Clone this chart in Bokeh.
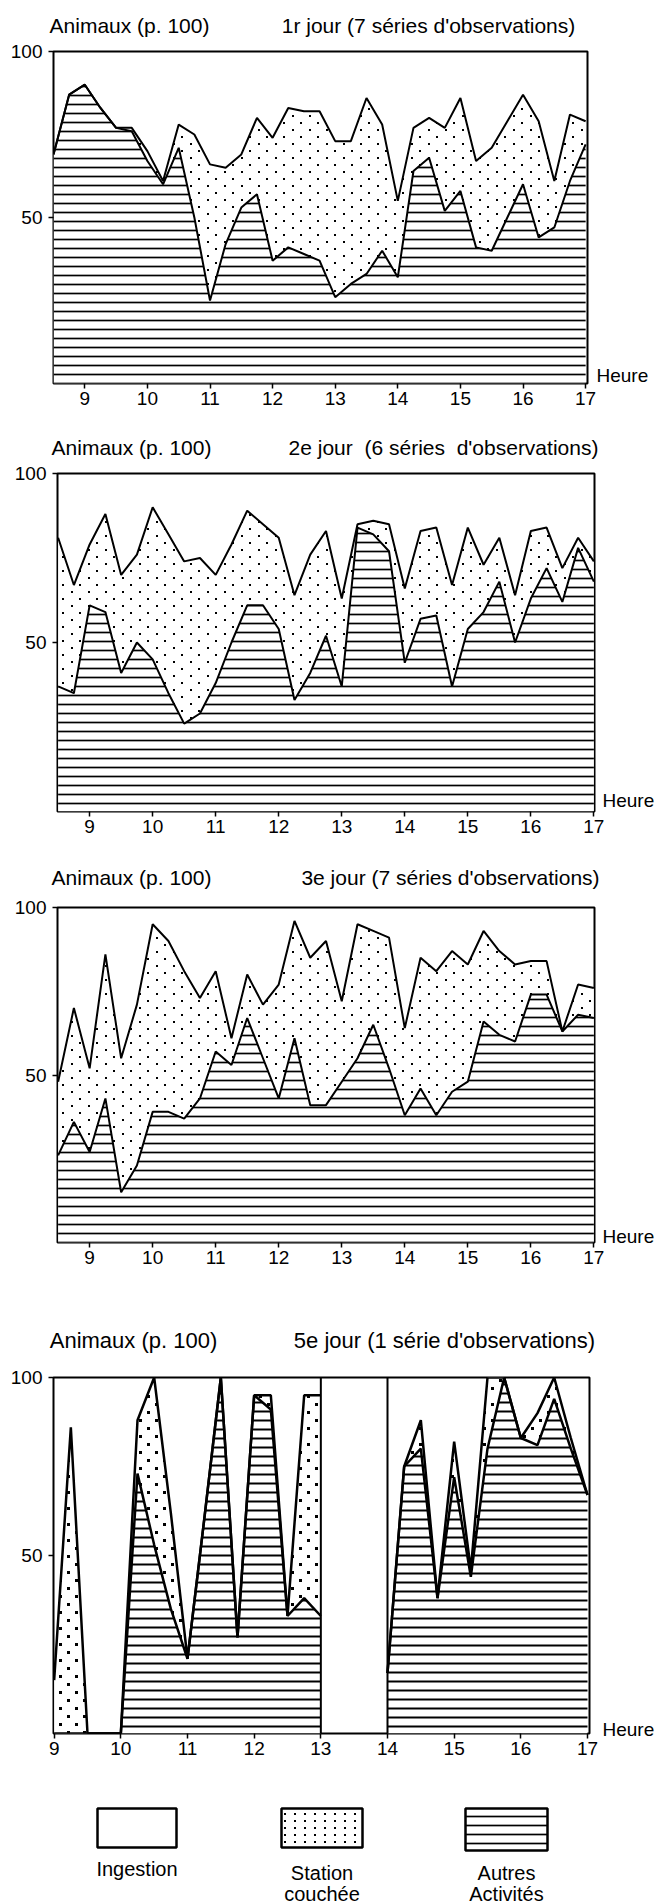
import base64
import struct
import zlib

from bokeh.plotting import figure
from bokeh.models import Range1d, FixedTicker, Span, LinearAxis, ImageURLTexture
from bokeh.embed import file_html
from bokeh.resources import INLINE
from bokeh.core.properties import value

FONT = "Liberation Sans"

# ---- observation times (hours, one reading every quarter hour) ----
hours_830 = [8.5, 8.75, 9.0, 9.25, 9.5, 9.75, 10.0, 10.25, 10.5, 10.75, 11.0, 11.25,
             11.5, 11.75, 12.0, 12.25, 12.5, 12.75, 13.0, 13.25, 13.5, 13.75, 14.0,
             14.25, 14.5, 14.75, 15.0, 15.25, 15.5, 15.75, 16.0, 16.25, 16.5, 16.75, 17.0]
hours_900 = hours_830[2:]

# ---- day 1 (7 series): % animals in "other activities" and "lying" ----
j1_autres = [69, 87, 90, 83, 77, 76, 67, 60, 71, 50, 25, 42, 53, 57, 37, 41, 39, 37,
             26, 30, 33, 40, 32, 64, 68, 52, 58, 41, 40, 50, 60, 44, 47, 61, 72]
j1_couchee = [0, 0, 0, 0, 0, 1, 3, 1, 7, 25, 41, 23, 16, 23, 37, 42, 43, 45,
              47, 43, 53, 38, 23, 13, 12, 25, 28, 26, 31, 29, 27, 35, 14, 20, 7]

# ---- day 2 (6 series) ----
j2_autres = [37, 35, 61, 59, 41, 50, 45, 35, 26, 29, 38, 50, 61, 61, 54, 33, 41, 52,
             37, 84, 82, 77, 44, 57, 58, 37, 54, 59, 68, 50, 63, 72, 62, 78, 68]
j2_couchee = [44, 32, 18, 29, 29, 26, 45, 47, 48, 46, 32, 29, 28, 24, 27, 31, 35, 31,
              26, 1, 4, 8, 22, 26, 26, 30, 30, 14, 13, 14, 20, 12, 10, 3, 6]

# ---- day 3 (7 series) ----
j3_autres = [26, 36, 27, 43, 15, 23, 39, 39, 37, 43, 57, 53, 67, 55, 43, 61, 41, 41,
             48, 55, 65, 52, 38, 46, 38, 45, 48, 66, 62, 60, 74, 74, 63, 68, 67]
j3_couchee = [22, 34, 25, 43, 40, 48, 56, 51, 44, 30, 24, 8, 13, 16, 34, 35, 44, 49,
              24, 40, 28, 39, 26, 39, 43, 42, 35, 27, 25, 23, 10, 10, 0, 9, 9]

# ---- day 5 (1 series), no readings between 13 h and 14 h ----
j5_autres = [0, 0, 0, 0, 0, 73, 53, 35, 21, 60, 100, 27, 95, 91, 33, 38, 33,
             None, None, None, 17, 75, 80, 38, 72, 44, 80, 100, 83, 81, 94, 80, 67]
j5_couchee = [15, 86, 0, 0, 0, 15, 47, 27, 0, 0, 0, 0, 0, 4, 0, 57, 62,
              None, None, None, 0, 0, 8, 0, 10, 2, 20, 0, 0, 9, 6, 3, 0]

hour_ticks = [9, 10, 11, 12, 13, 14, 15, 16, 17]
pct_ticks = [50, 100]

PAGE_W = 657


# ---- stipple tiles (small transparent PNGs with black dots) ----
def png_tile(w, h, dots, size):
    alpha = {}
    for (cx, cy) in dots:
        for dx in range(size):
            for dy in range(size):
                alpha[((cx + dx) % w, (cy + dy) % h)] = 255
    raw = bytearray()
    for y in range(h):
        raw.append(0)
        for x in range(w):
            raw += bytes((0, 0, 0, alpha.get((x, y), 0)))

    def chunk(tag, data):
        return (struct.pack(">I", len(data)) + tag + data
                + struct.pack(">I", zlib.crc32(tag + data) & 0xFFFFFFFF))

    png = (b"\x89PNG\r\n\x1a\n"
           + chunk(b"IHDR", struct.pack(">IIBBBBB", w, h, 8, 6, 0, 0, 0))
           + chunk(b"IDAT", zlib.compress(bytes(raw)))
           + chunk(b"IEND", b""))
    return "data:image/png;base64," + base64.b64encode(png).decode("ascii")


TEXTURES = {
    "stipple": ImageURLTexture(url=png_tile(17, 14, [(3, 3), (11, 10)], 2)),
    "stipple_bold": ImageURLTexture(url=png_tile(16, 16, [(3, 3), (11, 11)], 3)),
    "griddots": ImageURLTexture(url=png_tile(10, 7, [(4, 3)], 2)),
}


def runs(t, autres, couchee):
    """Split a series into contiguous runs (gaps are None)."""
    out, cur = [], ([], [], [])
    for ti, a, c in zip(t, autres, couchee):
        if a is None:
            if cur[0]:
                out.append(cur)
            cur = ([], [], [])
            continue
        cur[0].append(ti)
        cur[1].append(a)
        cur[2].append(a + c)
    if cur[0]:
        out.append(cur)
    return out


def style_axis(ax, size):
    ax.axis_line_color = None
    ax.major_tick_in = 0
    ax.minor_tick_line_color = None
    ax.major_label_text_font = FONT
    ax.major_label_text_font_size = size
    ax.major_label_text_color = "black"


def panel(t, autres, couchee, day_title, g, xr):
    br = PAGE_W - g["bl"] - g["fw"]
    fh = g["H"] - g["bt"] - g["bb"]
    p = figure(width=PAGE_W, height=g["H"], x_range=Range1d(*xr), y_range=Range1d(0, 100),
               output_backend="svg", toolbar_location=None,
               min_border_left=g["bl"], min_border_right=br,
               min_border_top=g["bt"], min_border_bottom=g["bb"])
    p.grid.visible = False
    p.outline_line_color = "black"
    p.outline_line_width = 2
    p.background_fill_color = "white"
    p.border_fill_color = "white"

    p.xaxis.ticker = FixedTicker(ticks=hour_ticks)
    p.yaxis.ticker = FixedTicker(ticks=pct_ticks)
    for ax in (p.xaxis, p.yaxis):
        style_axis(ax, "19px")
        ax.major_tick_out = 5
        ax.major_tick_line_color = "black"
        ax.major_tick_line_width = 1.5
    p.xaxis.major_label_standoff = 3
    p.yaxis.major_label_standoff = 6

    # pixel-based helper ranges for the heading and the time caption
    p.extra_x_ranges = {"px": Range1d(0, g["fw"])}
    p.extra_y_ranges = {"py": Range1d(0, fh)}

    c0 = g["c0"] - g["bl"]
    c1 = g["c1"] - g["bl"]
    head = LinearAxis(x_range_name="px", ticker=FixedTicker(ticks=[c0, c1]),
                      major_label_overrides={c0: "Animaux (p. 100)", c1: day_title})
    style_axis(head, g["fs"])
    head.major_tick_out = 0
    head.major_tick_line_color = None
    head.major_label_standoff = g["hs"]
    p.add_layout(head, "above")

    hv = g["H"] - g["bb"] - g["hy"]
    cap = LinearAxis(y_range_name="py", ticker=FixedTicker(ticks=[hv]),
                     major_label_overrides={hv: "Heure"})
    style_axis(cap, "19px")
    cap.major_tick_out = 0
    cap.major_tick_line_color = None
    cap.major_label_standoff = min(g["hx"] - g["bl"] - g["fw"], br - 55)
    p.add_layout(cap, "right")

    segs = runs(t, autres, couchee)
    for ts, lo, up in segs:
        p.varea(x=ts, y1=0, y2=lo, fill_color="white", hatch_pattern="horizontal_line",
                hatch_color="black", hatch_scale=9, hatch_weight=g["hw"])
        p.varea(x=ts, y1=lo, y2=up, fill_color="white", hatch_pattern=value(g["dots"]),
                hatch_extra=TEXTURES)
        p.line(ts, lo, line_color="black", line_width=g["lw"])
        p.line(ts, up, line_color="black", line_width=g["lw"])
    # edges of an interruption in the readings
    if len(segs) > 1:
        for a, b in zip(segs[:-1], segs[1:]):
            for loc in (a[0][-1], b[0][0]):
                p.add_layout(Span(location=loc, dimension="height",
                                  line_color="black", line_width=2))
    return p


g1 = dict(H=420, bl=53, fw=534, bt=51, bb=37, c0=129, c1=428, hs=15, fs="21px", hx=596, hy=375,
          hw=1.7, dots="stipple", lw=2)
g2 = dict(H=430, bl=57, fw=537, bt=53, bb=39, c0=131, c1=443, hs=15, fs="21px", hx=604, hy=380,
          hw=1.7, dots="stipple", lw=2)
g3 = dict(H=430, bl=57, fw=537, bt=57, bb=38, c0=131, c1=450, hs=19, fs="21px", hx=606, hy=386,
          hw=1.7, dots="stipple", lw=2)
g4 = dict(H=495, bl=53, fw=536, bt=97, bb=42, c0=133, c1=444, hs=25, fs="22px", hx=606, hy=449,
          hw=2.0, dots="stipple_bold", lw=2.5)

p1 = panel(hours_830, j1_autres, j1_couchee, "1r jour (7 séries d'observations)", g1, (8.5, 17.03))
p2 = panel(hours_830, j2_autres, j2_couchee, "2e jour\u00a0 (6 séries\u00a0 d'observations)", g2, (8.49, 17.01))
p3 = panel(hours_830, j3_autres, j3_couchee, "3e jour (7 séries d'observations)", g3, (8.49, 17.01))
p4 = panel(hours_900, j5_autres, j5_couchee, "5e jour (1 série d'observations)", g4, (8.99, 17.03))

# ---- key ----
key_names = ["Ingestion", "Station\ncouchée", "Autres\nActivités"]
key_patterns = [" ", "griddots", "horizontal_line"]
key_left = [97, 281, 465]
key_right = [176, 362, 547]
key_top = [33, 33, 33]
key_bottom = [72, 72, 75]

lg = figure(width=PAGE_W, height=129, x_range=Range1d(0, PAGE_W), y_range=Range1d(129, 0),
            output_backend="svg", toolbar_location=None, min_border=0,
            x_axis_location=None, y_axis_location=None)
lg.grid.visible = False
lg.outline_line_color = None
for name, pat, l, r, t, b in zip(key_names, key_patterns, key_left, key_right, key_top, key_bottom):
    lg.quad(left=l, right=r, top=t, bottom=b, fill_color="white", line_color="black",
            line_width=2.5, hatch_pattern=value(pat), hatch_extra=TEXTURES, hatch_color="black",
            hatch_scale=9, hatch_weight=1.7)
    lines = name.split("\n")
    cx = (l + r) / 2
    for k, ln in enumerate(lines):
        ty = (93 if len(lines) == 1 else 97) + 21 * k
        lg.text(x=[cx], y=[ty], text=[ln], text_font=value(FONT), text_font_size="20px",
                text_align="center", text_baseline="middle", text_color="black")

# each panel is its own root so that every frame keeps its own margins
open("out.html", "w").write(file_html([p1, p2, p3, p4, lg], INLINE))
